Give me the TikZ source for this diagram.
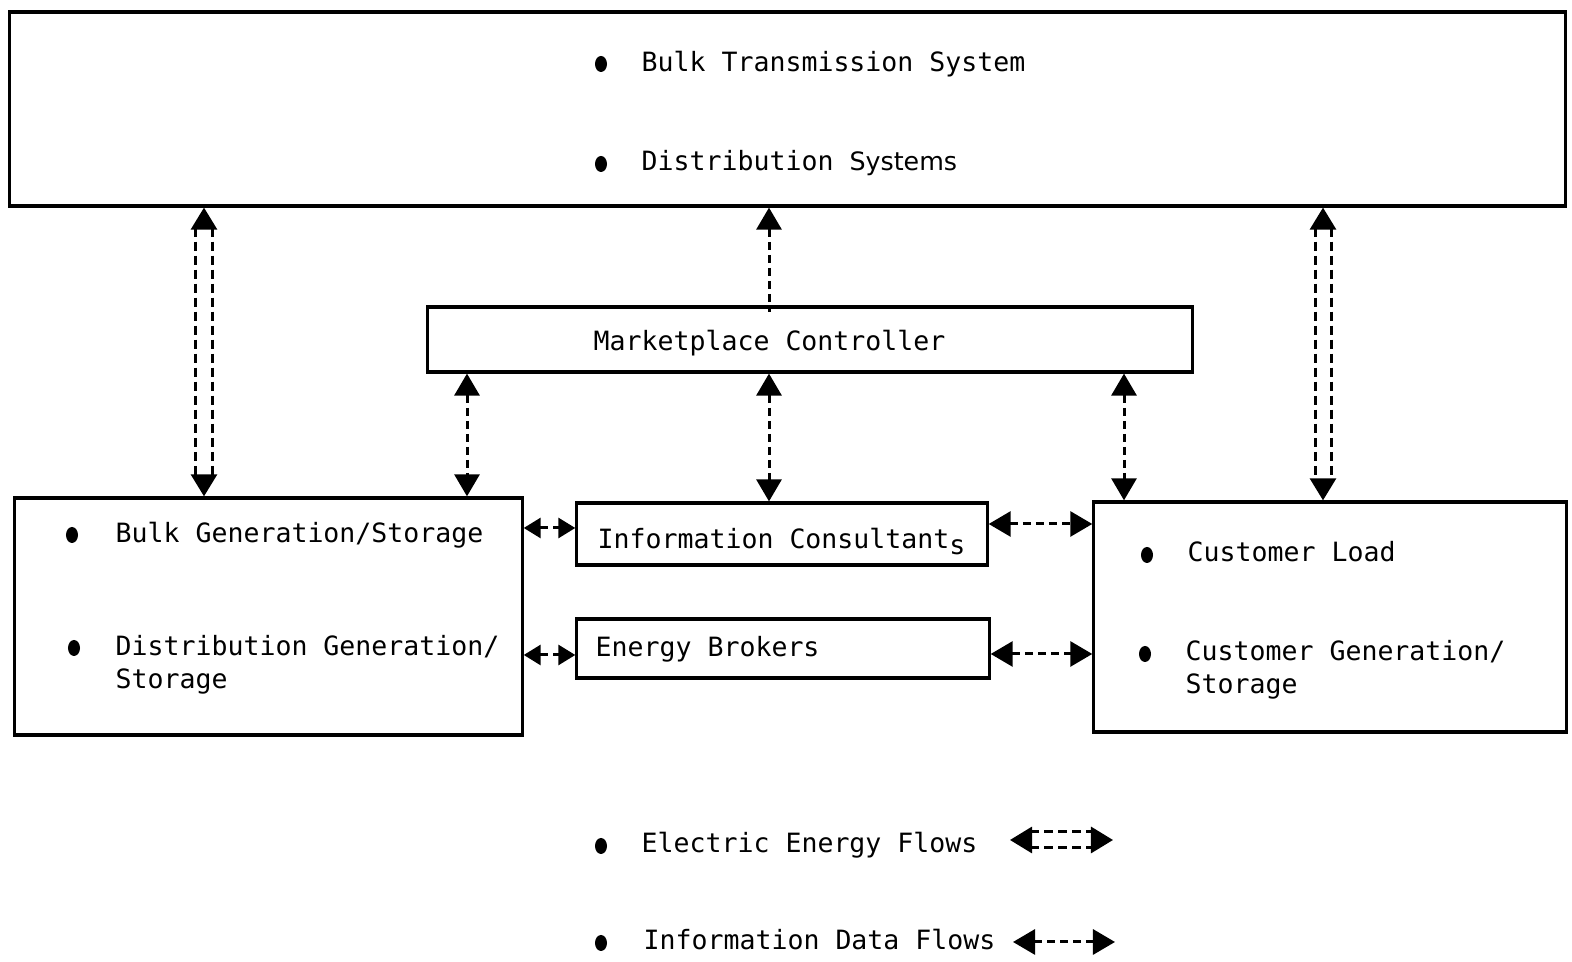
\documentclass[tikz,border=0pt]{standalone}
\usepackage{fontspec}
\usepackage{tikz}
\usetikzlibrary{arrows.meta,positioning,shapes.geometric,calc}
\newfontfamily\typefont{DejaVu Sans Mono}
\newfontfamily\propfont{DejaVu Sans}
\tikzset{
  block/.style={draw, line width=0.9pt, inner sep=0pt},
  txt/.style={anchor=base west, inner sep=0pt, align=left,
              font=\typefont\fontsize{7.55}{9.4}\selectfont},
  dot/.style={ellipse, fill, inner sep=0pt, minimum width=0.12cm,
              minimum height=0.16cm},
  >={Triangle[length=0.22cm,width=0.25cm]},
  % data links: one dashed rail
  iflow/.style={<->, line width=0.03cm, dash pattern=on 0.08cm off 0.05cm},
  sflow/.style={iflow, >={Triangle[length=0.17cm,width=0.2cm]}},
  % energy links: heads only, the two rails come as postactions
  etip/.style={<->, >={Triangle[length=0.22cm,width=0.26cm]},
               line width=0.03cm, dash pattern=on 0pt off 50cm},
  rail/.style={-, line width=0.03cm, dash pattern=on 0.09cm off 0.05cm,
               shorten <=0.2cm, shorten >=0.2cm},
  evert/.style={etip,
    postaction={draw, rail, transform canvas={xshift=-0.08cm}},
    postaction={draw, rail, transform canvas={xshift=0.08cm}}},
  ehor/.style={etip,
    postaction={draw, rail, transform canvas={yshift=-0.08cm}},
    postaction={draw, rail, transform canvas={yshift=0.08cm}}},
}

\begin{document}
\begin{tikzpicture}[x=0.01cm, y=-0.01cm]
\useasboundingbox (0,0) rectangle (1572,962);

% boxes
\node[block, minimum width=15.55cm, minimum height=1.94cm] (grid) at (787.5,109) {};
\node[block, minimum width=7.64cm, minimum height=0.65cm] (mc) at (810,339.5) {};
\node[block, minimum width=5.07cm, minimum height=2.37cm] (gen) at (268.5,616.5) {};
\node[block, minimum width=4.10cm, minimum height=0.62cm] (ic) at (782,534) {};
\node[block, minimum width=4.12cm, minimum height=0.59cm] (eb) at (783,648.5) {};
\node[block, minimum width=4.72cm, minimum height=2.30cm] (cust) at (1330,617) {};

% texts
\node[dot] (b1) at (601,64) {};
\node[txt] (t1) at (641,72) {Bulk Transmission System};
\node[dot] (b2) at (601,164) {};
\node[txt] (t2) at (641,171) {Distribution {\propfont\fontsize{7.2}{9}\selectfont Systems}};

\node[txt] (tmc) at (593,351) {Marketplace Controller};
\node[txt] (tic) at (597,549) {Information Consultant\raisebox{-0.22em}{s}};
\node[txt] (teb) at (595,657) {Energy Brokers};

\node[dot] (b3) at (72,535) {};
\node[txt] (t3) at (115,543) {Bulk Generation/Storage};
\node[dot] (b4) at (74,648) {};
\node[txt] (t4) at (115,689) {Distribution Generation/\\Storage};

\node[dot] (b5) at (1147,555) {};
\node[txt] (t5) at (1187,562) {Customer Load};
\node[dot] (b6) at (1145,654) {};
\node[txt] (t6) at (1185,694) {Customer Generation/\\Storage};

% legend
\node[dot] (b7) at (601,846) {};
\node[txt] (t7) at (641,853) {Electric Energy Flows};
\node[dot] (b8) at (601,943) {};
\node[txt] (t8) at (643,950) {Information Data Flows};
\coordinate (ea) at (1010,840);
\coordinate (ez) at (1113,840);
\coordinate (ia) at (1013,942);
\coordinate (iz) at (1115,942);

% where the links run
\coordinate (xgen) at (204,0);
\coordinate (xcust) at (1323,0);
\coordinate (xml) at (467,0);
\coordinate (xmc) at (769,0);
\coordinate (xmr) at (1124,0);
\coordinate (yicl) at (0,528);
\coordinate (yicr) at (0,524);
\coordinate (yebl) at (0,655);
\coordinate (yebr) at (0,654);

% energy
\draw[evert] (grid.south -| xgen) -- (gen.north -| xgen);
\draw[evert] (grid.south -| xcust) -- (cust.north -| xcust);
\draw[ehor] (ea) -- (ez);

% data
\draw[iflow, <-] (grid.south -| xmc) -- ([yshift=-0.07cm]mc.north -| xmc);
\draw[iflow] (mc.south -| xml) -- (gen.north -| xml);
\draw[iflow] (mc.south -| xmc) -- (ic.north -| xmc);
\draw[iflow] (mc.south -| xmr) -- (cust.north -| xmr);
\draw[sflow] (gen.east |- yicl) -- (ic.west |- yicl);
\draw[sflow] (gen.east |- yebl) -- (eb.west |- yebl);
\draw[iflow] (ic.east |- yicr) -- (cust.west |- yicr);
\draw[iflow] (eb.east |- yebr) -- (cust.west |- yebr);
\draw[iflow] (ia) -- (iz);

\end{tikzpicture}
\end{document}
